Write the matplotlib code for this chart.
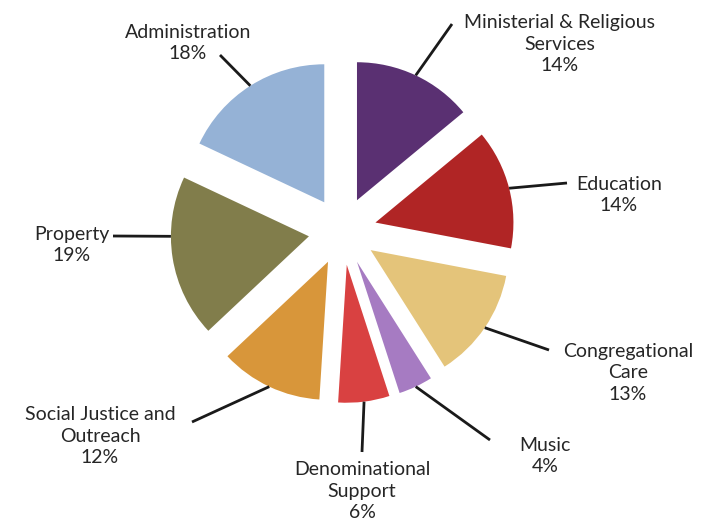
import numpy as np
import matplotlib
matplotlib.use("Agg")
import matplotlib.pyplot as plt

categories = ["Ministerial & Religious\nServices", "Education", "Congregational\nCare", "Music",
              "Denominational\nSupport", "Social Justice and\nOutreach", "Property", "Administration"]
values = [14, 14, 13, 4, 6, 12, 19, 18]
colors = ["#5A3072", "#B02525", "#E4C47A", "#A67BC2", "#D94141", "#D8963A", "#817D4B", "#95B2D6"]

# layout (pixel-like coordinates, y up)
W, H = 709, 523
cx, cy = 342.5, H - 231
R = 138
EXPL = 34
label_pos = [(560, H - 44), (619, H - 195), (628, H - 373), (545, H - 456),
             (362, H - 491), (100, H - 436), (72, H - 245), (188, H - 43)]
leader_end = [(452, H - 24), (567, H - 183), (549, H - 350), (490, H - 440),
              (362, H - 452), (192, H - 422), (113, H - 236), (220, H - 55)]
leader_angle_offset = [0, 0, 0, 0, 0, 0, -9, 0]

fig = plt.figure(figsize=(W / 100, H / 100), dpi=100)
ax = fig.add_axes([0, 0, 1, 1])
wedges, _ = ax.pie(values, colors=colors, startangle=90, counterclock=False,
                   center=(cx, cy), radius=R, explode=[EXPL] * len(values),
                   wedgeprops=dict(linewidth=0))
ax.set_xlim(0, W)
ax.set_ylim(0, H)
ax.set_aspect("equal")
ax.axis("off")

total = sum(values)
for i, w in enumerate(wedges):
    ang = np.deg2rad((w.theta1 + w.theta2) / 2 + leader_angle_offset[i])
    x0 = w.center[0] + w.r * np.cos(ang)
    y0 = w.center[1] + w.r * np.sin(ang)
    ex, ey = leader_end[i]
    ax.plot([x0, ex], [y0, ey], color="#1a1a1a", lw=2, solid_capstyle="butt")
    txt = f"{categories[i]}\n{round(values[i] / total * 100)}%"
    ax.text(label_pos[i][0], label_pos[i][1], txt, ha="center", va="center",
            fontsize=14, family=["Lato", "DejaVu Sans"], color="#262626",
            linespacing=1.3)

fig.savefig("out.png", dpi=100)
